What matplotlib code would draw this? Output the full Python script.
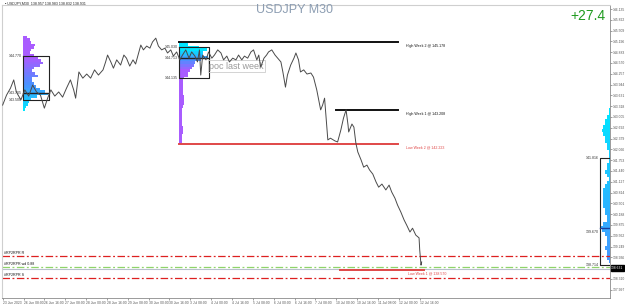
import numpy as np
import matplotlib
matplotlib.use("Agg")
import matplotlib.pyplot as plt
import matplotlib.transforms as mtransforms
from matplotlib.colors import LinearSegmentedColormap

plt.rcParams['font.family'] = ['Liberation Sans', 'DejaVu Sans']

# M30 closes, sampled along the chart (bar index from 23 Jun 16:00)
BARS = [0, 6, 12, 17, 21, 28, 34, 40, 46, 52, 58, 64, 69, 74, 80, 86, 92, 98, 104, 109,
        112, 117, 123, 129, 135, 141, 147, 154, 158, 161, 166, 170, 175, 181, 186, 190, 195, 200, 204, 209,
        212, 216, 221, 226, 230, 235, 239, 244, 249, 253, 258, 262, 267, 272, 276, 281, 286, 290, 295, 299,
        302, 304, 307, 312, 316, 321, 325, 330, 335, 339, 344, 348, 353, 358, 362, 367, 371, 376, 381, 385,
        390, 393, 396, 401, 405, 408, 413, 418, 422, 427, 430, 434, 437, 442, 447, 450, 454, 457, 462, 467,
        473, 477, 482, 485, 488, 491, 494, 496, 497, 499, 503, 510, 514, 519, 523, 527, 530, 531, 536, 539,
        542, 545, 550, 554, 559, 563, 568, 573, 577, 582, 588, 593, 597, 602, 606, 611, 616, 620, 625, 629,
        634, 639, 640, 642, 643]
CLOSE = [143.35, 143.64, 143.84, 144.08, 143.73, 143.50, 143.79, 143.61, 143.93, 143.73, 143.64, 143.26, 143.55, 143.79, 143.61, 143.73, 143.58, 143.84, 144.08, 143.79,
         143.55, 144.31, 144.13, 144.25, 144.13, 144.37, 144.22, 144.37, 144.60, 144.80, 144.60, 144.42, 144.66, 144.51, 144.80, 144.71, 144.48, 144.66, 144.54, 144.89,
         145.09, 144.95, 145.06, 145.00, 145.18, 145.29, 145.06, 144.95, 145.00, 144.86, 144.95, 144.77, 144.89, 144.66, 144.80, 144.95, 144.71, 144.89, 144.77, 144.60,
         144.95, 144.22, 144.80, 144.66, 144.89, 144.71, 144.80, 144.95, 144.86, 144.66, 144.77, 144.60, 144.71, 144.66, 144.80, 144.66, 144.77, 144.71, 144.89, 144.95,
         144.66, 144.80, 144.45, 144.71, 144.80, 144.89, 144.95, 144.80, 144.71, 144.60, 144.31, 143.87, 144.22, 144.51, 144.71, 144.86, 144.66, 144.31, 144.37, 144.25,
         144.28, 144.16, 143.79, 143.50, 143.21, 143.35, 143.55, 143.06, 142.83, 142.34, 142.39, 142.31, 142.28, 142.63, 142.97, 143.21, 142.77, 142.57, 142.80, 142.71,
         142.25, 141.99, 141.76, 141.55, 141.61, 141.47, 141.35, 141.12, 140.97, 141.06, 140.89, 141.03, 140.83, 140.65, 140.45, 140.25, 140.02, 139.87, 139.67, 139.78,
         139.58, 139.50, 139.15, 138.71, 138.80]

DATE_LABELS = ["23 Jun 2023", "26 Jun 08:00", "26 Jun 16:00", "27 Jun 08:00", "28 Jun 00:00", "28 Jun 16:00",
               "29 Jun 08:00", "30 Jun 00:00", "30 Jun 16:00", "3 Jul 08:00", "4 Jul 00:00", "4 Jul 16:00",
               "5 Jul 08:00", "6 Jul 00:00", "6 Jul 16:00", "7 Jul 08:00", "10 Jul 00:00", "10 Jul 16:00",
               "11 Jul 08:00", "12 Jul 00:00", "12 Jul 16:00"]
PRICE_TICKS = [146.135, 145.822, 145.509, 145.196, 144.883, 144.570, 144.257, 143.944, 143.631, 143.318,
               143.005, 142.692, 142.379, 142.066, 141.753, 141.440, 141.127, 140.814, 140.501, 140.188,
               139.875, 139.562, 139.249, 138.936, 138.310, 137.997]

# volume profiles (top price, bin size, volume per bin top->bottom)
LEFT_START = 31
LEFT_TOP, LEFT_STEP = 145.32, 0.075
LEFT_VOL = [6, 11, 12, 18, 17, 12, 11, 17, 23, 28, 31, 26, 17, 14, 18, 23, 14, 14, 17, 20,
            26, 34, 38, 21, 12, 9, 8, 5, 3]
LEFT_BOX = (31, 71, 144.770, 143.500)
LEFT_POC = 143.705

MID_START = 270
MID_TOP, MID_STEP = 145.18, 0.075
MID_VOL = [5, 15, 31, 43, 37, 37, 45, 34, 25, 23, 21, 18, 15, 14, 9, 6, 6, 6, 6, 6,
           6, 8, 8, 9, 8, 6, 5, 5, 5, 5, 5, 5, 5, 6, 6, 6, 5, 5, 5, 5]
MID_BOX = (270, 316, 145.030, 144.135)
MID_POC = 144.713

RIGHT_END = 933
RIGHT_TOP, RIGHT_STEP = 143.208, 0.1
RIGHT_VOL = [2, 3, 6, 8, 8, 12, 14, 11, 9, 8, 6, 5, 3, 3, 2, 3, 5, 6, 8, 5,
             3, 6, 9, 11, 12, 11, 11, 12, 11, 9, 8, 5, 6, 11, 17, 14, 8, 5, 6, 6,
             8, 5, 5, 5, 3]
RIGHT_BOX = (916, 933, 141.816, 138.714)
RIGHT_POC = 139.780
RIGHT_MID = 139.670

# weekly levels: (label, price, start bar, end bar, colour)
LEVELS = [("High Week 2", 145.178, 270, 606, "#111111"),
          ("High Week 1", 143.208, 511, 606, "#111111"),
          ("Low Week 2", 142.223, 270, 606, "#e04848"),
          ("Low Week 1", 138.570, 517, 647, "#e04848")]

PIVOTS = [("#RP2RPR R", 138.975, "#dd2020"),
          ("#RP2RPR wd 0.88", 138.656, "#8fd46a"),
          ("#RP2RPR S", 138.337, "#dd2020")]
BID = 138.600
LAST = 138.631

cmap = LinearSegmentedColormap.from_list("vp", ["#00e5ff", "#4d8fff", "#a95cff"])

fig = plt.figure(figsize=(6.25, 3.08), dpi=100)
ax = fig.add_axes([2 / 625, 10 / 308, 608 / 625, 293 / 308])
ax.set_xlim(-1, 932)
ax.set_ylim(137.757, 146.251)

# profiles
n = len(LEFT_VOL)
lv = LEFT_TOP - LEFT_STEP * np.arange(n)
pos = np.clip((n - 1 - np.arange(n)) / (n - 1) * 1.4, 0, 1)
ax.barh(lv, LEFT_VOL, left=LEFT_START, height=LEFT_STEP, color=cmap(pos), linewidth=0, zorder=1)

n = len(MID_VOL)
mv = MID_TOP - MID_STEP * np.arange(n)
pos = np.clip((np.arange(n) - 3) / 8, 0, 1)
ax.barh(mv, MID_VOL, left=MID_START, height=MID_STEP, color=cmap(pos), linewidth=0, zorder=1)

n = len(RIGHT_VOL)
rv = RIGHT_TOP - RIGHT_STEP * np.arange(n)
pos = np.arange(n) / (n - 1) * 0.45
ax.barh(rv, RIGHT_VOL, left=RIGHT_END - np.array(RIGHT_VOL), height=RIGHT_STEP,
        color=cmap(pos), linewidth=0, zorder=1)

# value-area boxes
for (x0, x1, top, bot), poc in [(LEFT_BOX, LEFT_POC), (MID_BOX, MID_POC)]:
    ax.plot([x0, x1, x1, x0, x0], [top, top, bot, bot, top], color="#222222", lw=0.8, zorder=3)
    ax.plot([x0, x1], [poc, poc], color="#222222", lw=1.0, zorder=3)
    for v in (top, poc, bot):
        ax.text(x0 - 1, v, f"{v:.3f}", fontsize=2.6, ha="right", va="center", color="#333333")

x0, x1, top, bot = RIGHT_BOX
ax.plot([x1, x0, x0, x1], [top, top, bot, bot], color="#222222", lw=0.8, zorder=3)
ax.plot([x0, x1], [RIGHT_POC, RIGHT_POC], color="#1f3f99", lw=1.0, zorder=3)
for v in (top, RIGHT_MID, bot):
    ax.text(x0 - 2, v, f"{v:.3f}", fontsize=2.6, ha="right", va="center", color="#333333")

ax.text(317, 144.48, "poc last week", fontsize=6.5, color="#9a9a9a", va="center", ha="left",
        bbox=dict(boxstyle="square,pad=0.15", fc="none", ec="#cccccc", lw=0.6), zorder=4)

# pivot lines
for name, v, c in PIVOTS:
    ax.axhline(v, color=c, lw=0.9, ls=(0, (6, 2, 1.5, 2)), zorder=2)
    ax.text(2, v + 0.03, name, fontsize=2.6, color="#111111", va="bottom", ha="left")
ax.axhline(BID, color="#b8c0cc", lw=0.8, zorder=2)

# weekly high/low
for name, v, b0, b1, c in LEVELS:
    ax.plot([b0, b1], [v, v], color=c, lw=1.4, zorder=3)
    ax.text(b1 + 13 if b1 < 620 else 622, v - 0.05, f"{name} @ {v:.3f}", fontsize=2.6,
            color=c, va="top", ha="left")

# price
ax.plot(BARS, CLOSE, color="#4a4a4a", lw=0.7, zorder=5)

# axes styling
for s in ["top", "left"]:
    ax.spines[s].set_color("#cfcfcf")
    ax.spines[s].set_linewidth(0.8)
for s in ["right", "bottom"]:
    ax.spines[s].set_color("#8a8a8a")
    ax.spines[s].set_linewidth(0.6)
ax.yaxis.tick_right()
ax.set_yticks(PRICE_TICKS)
ax.set_yticklabels([f"{t:.3f}" for t in PRICE_TICKS])
ax.set_xticks([32 * k for k in range(len(DATE_LABELS))])
ax.set_xticklabels(DATE_LABELS, ha="left")
ax.tick_params(axis="both", labelsize=2.4, length=1.5, width=0.4, pad=0.8, colors="#555555")

tr = mtransforms.blended_transform_factory(ax.transAxes, ax.transData)
ax.text(1.002, LAST, f"{LAST:.3f}", transform=tr, fontsize=2.4, color="white", va="center", ha="left",
        bbox=dict(boxstyle="square,pad=0.2", fc="black", ec="black"), zorder=6)

fig.text(294 / 625, 1 - 10 / 308, "USDJPY M30", fontsize=9, color="#8c9db2", ha="center", va="center")
fig.text(588 / 625, 1 - 16 / 308, "+27.4", fontsize=10, color="#1f9a1f", ha="center", va="center")
fig.text(5 / 625, 1 - 3.5 / 308, "\u25aa USDJPY,M30  138.957 138.983 138.832 138.931", fontsize=2.6,
         color="#222222", ha="left", va="center")

fig.savefig("out.png", dpi=100)
